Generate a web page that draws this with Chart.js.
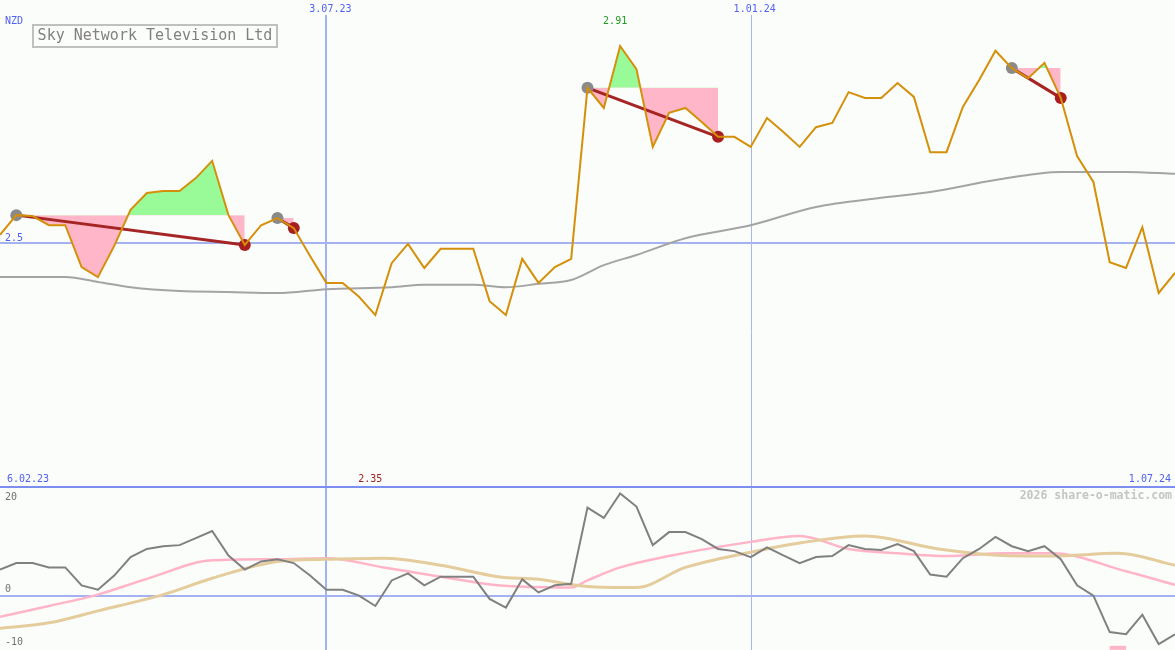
<!DOCTYPE html>
<html>
<head>
<meta charset="utf-8">
<script src="https://cdn.jsdelivr.net/npm/chart.js@4.4.1/dist/chart.umd.min.js"></script>
<style>
html, body { margin: 0; padding: 0; background: #fbfdfa; }
#wrap { position: relative; width: 1175px; height: 650px; }
</style>
</head>
<body>
<div id="wrap"><canvas id="c" width="1175" height="650"></canvas></div>
<script>
// 週ごとの終値 (NZD)
var price = [2.517, 2.558, 2.556, 2.537, 2.537, 2.450, 2.429, 2.494, 2.569, 2.604,
             2.608, 2.608, 2.635, 2.671, 2.558, 2.496, 2.537, 2.552, 2.531, 2.473,
             2.417, 2.417, 2.388, 2.350, 2.458, 2.498, 2.448, 2.488, 2.488, 2.488,
             2.379, 2.350, 2.467, 2.417, 2.450, 2.467, 2.823, 2.781, 2.910, 2.862,
             2.700, 2.771, 2.781, 2.752, 2.721, 2.721, 2.700, 2.760, 2.731, 2.700,
             2.741, 2.750, 2.814, 2.802, 2.802, 2.833, 2.804, 2.689, 2.689, 2.783,
             2.839, 2.900, 2.864, 2.843, 2.875, 2.802, 2.681, 2.627, 2.460, 2.448,
             2.533, 2.396, 2.438];

// 移動平均（灰色）
var maX = [0, 4, 6, 8, 11, 14, 17, 20, 24, 26, 29, 31, 33, 35, 37, 39, 42, 46, 50, 54, 57, 61, 65, 69, 72];
var maY = [2.429, 2.429, 2.419, 2.408, 2.400, 2.398, 2.396, 2.404, 2.408, 2.413, 2.413, 2.408, 2.415,
           2.423, 2.454, 2.475, 2.510, 2.537, 2.575, 2.594, 2.606, 2.631, 2.648, 2.648, 2.644];

// 売買ポイント [買い, 売り]
var tradeIn = [1, 17, 36, 62];
var tradeOut = [15, 18, 44, 65];

// 下段：モメンタム
var mom = [4.8, 6.0, 6.0, 5.2, 5.2, 1.9, 1.1, 3.7, 7.1, 8.6,
           9.1, 9.3, 10.6, 11.9, 7.4, 4.8, 6.3, 6.7, 6.0, 3.7,
           1.1, 1.1, 0, -1.9, 2.8, 4.1, 1.9, 3.5, 3.5, 3.5,
           -0.6, -2.2, 3.0, 0.6, 1.9, 2.2, 16.2, 14.3, 18.8, 16.4,
           9.3, 11.7, 11.7, 10.4, 8.6, 8.2, 7.1, 8.9, 7.4, 6.0,
           7.1, 7.3, 9.3, 8.6, 8.4, 9.5, 8.2, 3.9, 3.5, 6.9,
           8.6, 10.8, 9.1, 8.2, 9.1, 6.7, 1.9, 0, -6.7, -7.1,
           -3.5, -8.9, -7.1];
var pinkX = [0, 3, 6, 9, 13, 17, 20, 23.5, 27, 30.5, 35, 36, 38, 41, 46, 49, 52, 55, 58, 61.5, 64.5, 69, 72];
var pinkY = [-3.9, -1.9, 0.2, 3.1, 6.5, 6.7, 6.9, 5.2, 3.5, 1.9, 1.5, 2.8, 5.2, 7.3, 9.9, 11.0, 8.6, 7.8, 7.3, 7.8, 7.8, 4.5, 2.0];
var tanX = [0, 3, 6, 10, 13, 17, 20, 23.5, 27, 30.5, 33, 36, 39, 42, 46, 49, 53, 57.5, 61.5, 64.5, 68.5, 72];
var tanY = [-6.0, -5.0, -2.8, 0.2, 3.2, 6.3, 6.7, 6.9, 5.6, 3.5, 3.0, 1.7, 1.5, 5.2, 8.0, 9.7, 11.0, 8.6, 7.4, 7.3, 7.8, 5.6];
var sigX = [68, 69];
var sigY = [-9.6, -9.6];

// 日付ラベル
var dateIdx = [20, 46];
var dateLabels = ['3.07.23', '1.01.24'];
var firstDate = '6.02.23';
var lastDate = '1.07.24';

// 上段：2.5 が y=243、1ドルあたり 480.5px
var PX_PER = 480.5;
var pTop = 2.5 + 243 / PX_PER;
var pBot = 2.5 - (650 - 243) / PX_PER;
// 下段：20 が y=487、-10 が y=650
var mPer = 163 / 30;
var mTop = 20 + 487 / mPer;

function pts(xs, ys) {
    var out = [];
    for (var i = 0; i < xs.length; i++) out.push({ x: xs[i], y: ys[i] });
    return out;
}
function idxs(n) {
    var a = [];
    for (var i = 0; i < n; i++) a.push(i);
    return a;
}

var datasets = [];
datasets.push({ data: pts(idxs(price.length), price), yAxisID: 'yP', borderColor: '#d4900a', borderWidth: 2, pointRadius: 0, fill: false, order: 1 });

for (var t = 0; t < tradeIn.length; t++) {
    var a = tradeIn[t], b = tradeOut[t];
    datasets.push({
        data: [{ x: a, y: price[a] }, { x: b, y: price[b] }], yAxisID: 'yP',
        borderColor: '#a52424', borderWidth: 3, fill: false,
        pointRadius: 6, pointBorderWidth: 0,
        pointBackgroundColor: ['#8a8a8a', '#a81e1e'], order: 2
    });
    var xs = [], ys = [];
    for (var k = a; k <= b; k++) { xs.push(k); ys.push(price[k]); }
    datasets.push({
        data: pts(xs, ys), yAxisID: 'yP', borderWidth: 0, pointRadius: 0,
        fill: { target: { value: price[a] }, above: '#98fb98', below: '#ffb6c8' }, order: 4
    });
}

datasets.push({ data: pts(maX, maY), yAxisID: 'yP', borderColor: '#a4a4a4', borderWidth: 2, pointRadius: 0, fill: false, cubicInterpolationMode: 'monotone', order: 3 });

datasets.push({ data: pts(idxs(mom.length), mom), yAxisID: 'yM', borderColor: '#808080', borderWidth: 2, pointRadius: 0, fill: false, order: 5 });
datasets.push({ data: pts(pinkX, pinkY), yAxisID: 'yM', borderColor: '#ffb4c8', borderWidth: 2.5, pointRadius: 0, fill: false, cubicInterpolationMode: 'monotone', order: 7 });
datasets.push({ data: pts(tanX, tanY), yAxisID: 'yM', borderColor: '#e4cc9c', borderWidth: 3, pointRadius: 0, fill: false, cubicInterpolationMode: 'monotone', order: 6 });
datasets.push({ data: pts(sigX, sigY), yAxisID: 'yM', borderColor: '#ffb4c8', borderWidth: 4, pointRadius: 0, fill: false, order: 8 });

// 背景・罫線
var gridPlugin = {
    id: 'grid',
    beforeDatasetsDraw: function(chart) {
        var ctx = chart.ctx;
        var x = chart.scales.x, yP = chart.scales.yP, yM = chart.scales.yM;
        ctx.save();
        ctx.strokeStyle = '#a4b2f2';
        ctx.lineWidth = 2;
        var y25 = Math.round(yP.getPixelForValue(2.5));
        ctx.beginPath(); ctx.moveTo(0, y25); ctx.lineTo(1175, y25); ctx.stroke();
        var y0 = Math.round(yM.getPixelForValue(0));
        ctx.beginPath(); ctx.moveTo(0, y0); ctx.lineTo(1175, y0); ctx.stroke();
        var vx = Math.round(x.getPixelForValue(dateIdx[0]));
        ctx.beginPath(); ctx.moveTo(vx, 15); ctx.lineTo(vx, 650); ctx.stroke();
        ctx.lineWidth = 1;
        ctx.strokeStyle = '#aab6ec';
        var vx2 = Math.round(x.getPixelForValue(dateIdx[1])) + 0.5;
        ctx.beginPath(); ctx.moveTo(vx2, 15); ctx.lineTo(vx2, 650); ctx.stroke();
        ctx.lineWidth = 2;
        ctx.strokeStyle = '#7d8ef0';
        var ys = Math.round(yM.getPixelForValue(20));
        ctx.beginPath(); ctx.moveTo(0, ys); ctx.lineTo(1175, ys); ctx.stroke();
        ctx.restore();
    },
    afterDatasetsDraw: function(chart) {
        var ctx = chart.ctx;
        var x = chart.scales.x;
        ctx.save();
        ctx.textBaseline = 'middle';
        ctx.font = '10px "DejaVu Sans Mono"';
        ctx.fillStyle = '#5060f0';
        ctx.textAlign = 'left';
        ctx.fillText('NZD', 5, 21);
        ctx.fillText('2.5', 5, 238);
        ctx.fillText(firstDate, 7, 479);
        ctx.textAlign = 'center';
        for (var i = 0; i < dateIdx.length; i++) {
            ctx.fillText(dateLabels[i], x.getPixelForValue(dateIdx[i]) + 4, 9);
        }
        ctx.textAlign = 'right';
        ctx.fillText(lastDate, 1171, 479);

        // 最高値・最安値
        var hi = 0, lo = 0;
        for (var j = 0; j < price.length; j++) {
            if (price[j] > price[hi]) hi = j;
            if (price[j] < price[lo]) lo = j;
        }
        ctx.textAlign = 'center';
        ctx.fillStyle = '#1e9a1e';
        ctx.fillText(price[hi].toFixed(2), x.getPixelForValue(hi) - 5, 21);
        ctx.fillStyle = '#a01e1e';
        ctx.fillText(price[lo].toFixed(2), x.getPixelForValue(lo) - 5, 479);

        // 下段の目盛
        ctx.textAlign = 'left';
        ctx.fillStyle = '#707070';
        ctx.fillText('20', 5, 497);
        ctx.fillText('0', 5, 589);
        ctx.fillText('-10', 5, 642);

        ctx.textAlign = 'right';
        ctx.fillStyle = '#c4c4c4';
        ctx.font = 'bold 11.5px "DejaVu Sans Mono"';
        ctx.fillText('2026 share-o-matic.com', 1172, 496);

        // タイトル枠
        ctx.strokeStyle = '#c0c0c0';
        ctx.lineWidth = 2;
        ctx.strokeRect(33, 25, 244, 22);
        ctx.fillStyle = '#808080';
        ctx.font = '15px "DejaVu Sans Mono"';
        ctx.textAlign = 'center';
        ctx.fillText('Sky Network Television Ltd', 155, 36.5);
        ctx.restore();
    }
};

new Chart(document.getElementById('c').getContext('2d'), {
    type: 'line',
    data: { datasets: datasets },
    options: {
        responsive: false, animation: false, devicePixelRatio: 1, events: [],
        layout: { padding: 0, autoPadding: false },
        scales: {
            x: { type: 'linear', min: 0, max: price.length - 1, display: false },
            yP: { type: 'linear', min: pBot, max: pTop, display: false },
            yM: { type: 'linear', min: -10, max: mTop, display: false }
        },
        plugins: { legend: { display: false }, tooltip: { enabled: false } }
    },
    plugins: [gridPlugin]
});
</script>
</body>
</html>
